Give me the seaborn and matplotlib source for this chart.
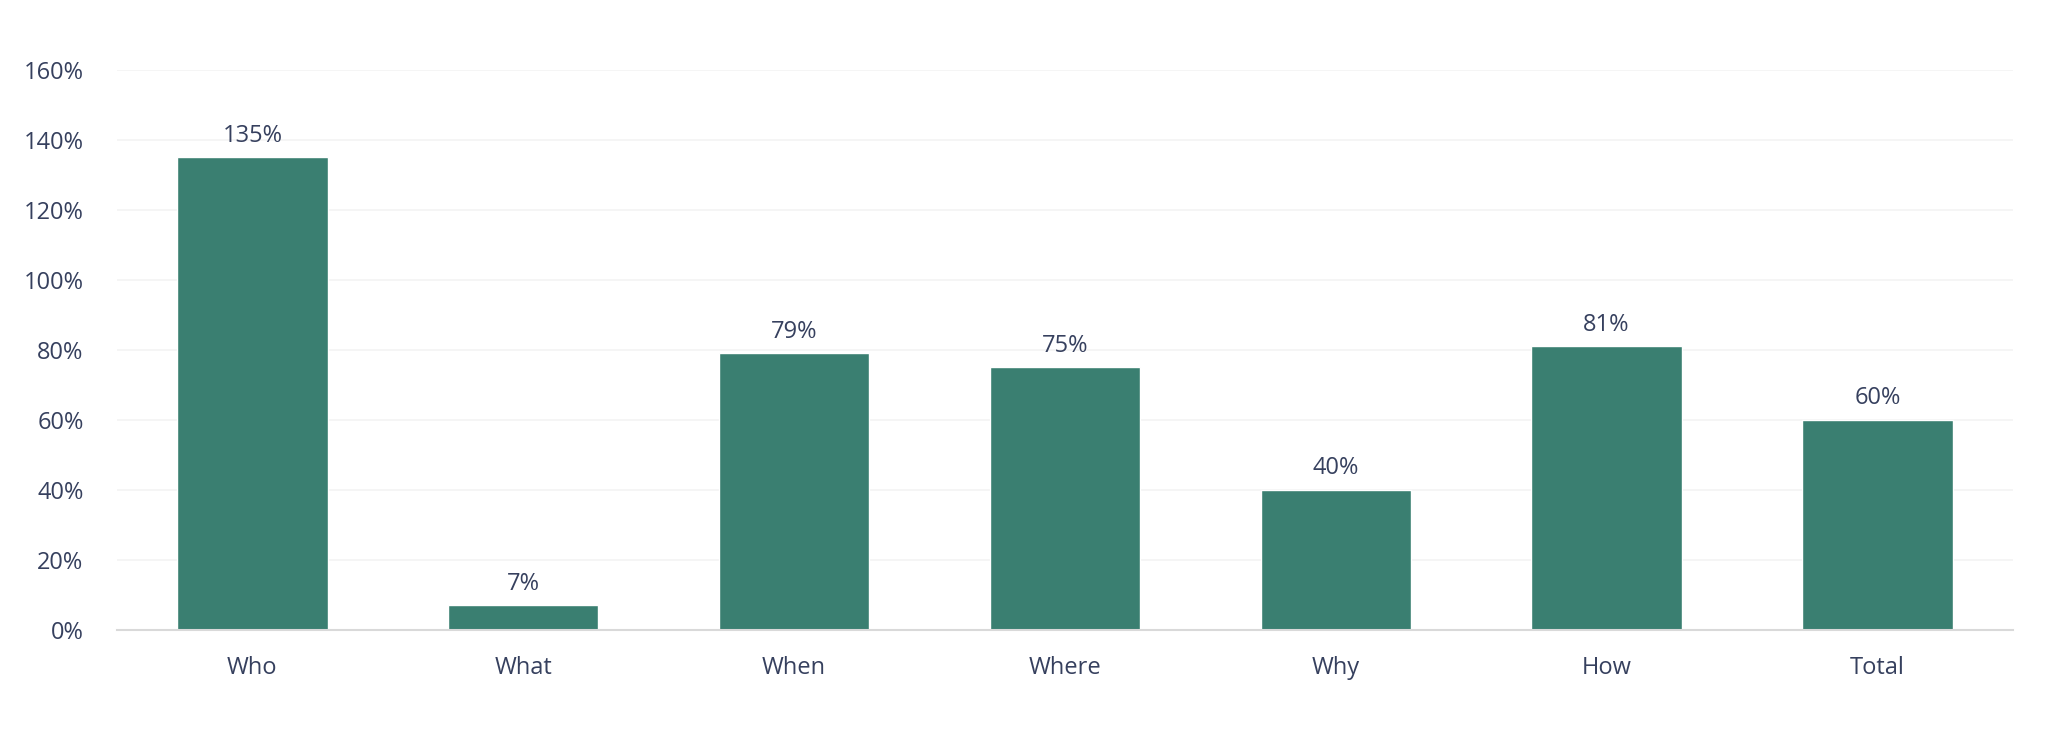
import pandas as pd
import matplotlib.pyplot as plt
import seaborn as sns
from matplotlib.ticker import FuncFormatter

# Data
categories = ['Who', 'What', 'When', 'Where', 'Why', 'How', 'Total']
values = [135, 7, 79, 75, 40, 81, 60]
y_ticks = [0, 20, 40, 60, 80, 100, 120, 140, 160]

BAR_COLOR = '#3a7f71'
TEXT_COLOR = '#36405e'

df = pd.DataFrame({'Category': categories, 'Value': values})

sns.set_theme(style='white')
plt.rcParams['font.family'] = ['Open Sans', 'DejaVu Sans']

fig = plt.figure(figsize=(20.66, 7.5), dpi=100)
ax = fig.add_axes([0.0566, 0.16, 0.9177, 0.7467])

sns.barplot(data=df, x='Category', y='Value', color=BAR_COLOR,
            width=0.555, saturation=1, ax=ax)

ax.bar_label(ax.containers[0], labels=[f'{v}%' for v in values],
             padding=7, fontsize=17, color=TEXT_COLOR)

ax.set_xlim(-0.5, len(categories) - 0.5)
ax.set_ylim(0, 160)
ax.set_yticks(y_ticks)
ax.yaxis.set_major_formatter(FuncFormatter(lambda v, p: f'{v:.0f}%'))
ax.grid(axis='y', color='#f3f3f3', linewidth=1.2)
ax.set_axisbelow(True)

for side in ['top', 'right', 'left']:
    ax.spines[side].set_visible(False)
ax.spines['bottom'].set_color('#d9d9d9')
ax.spines['bottom'].set_linewidth(1.5)

ax.tick_params(axis='both', length=0, labelsize=17, colors=TEXT_COLOR)
ax.tick_params(axis='x', pad=19)
ax.tick_params(axis='y', pad=24)
ax.set_xlabel('')
ax.set_ylabel('')

fig.savefig('out.png', dpi=100, facecolor='white')
